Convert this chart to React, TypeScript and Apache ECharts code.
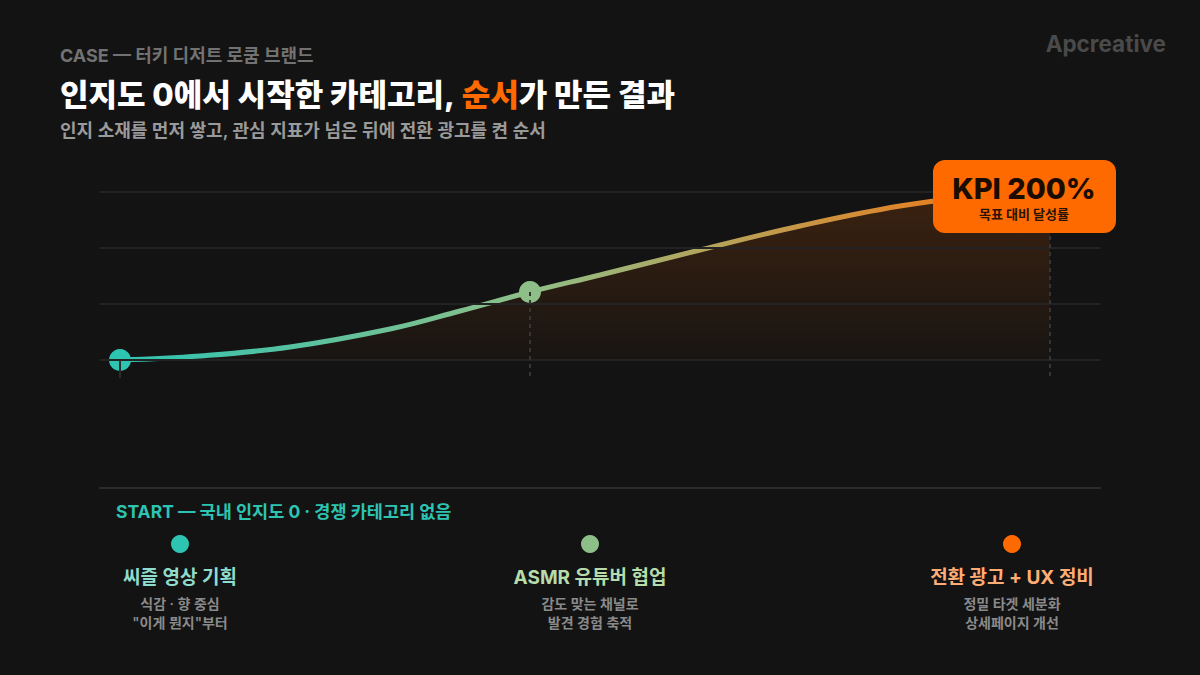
import React, { useEffect, useRef } from "react";
import * as echarts from "echarts";

// ---- Data ----
const curveX = [2, 10, 19, 29, 36, 43, 50, 60, 70, 80, 90, 95];
const curveY = [0, 4, 13, 31, 49, 68, 85, 110, 134, 154, 167, 172];
const milestoneX = [2, 43, 95];
const milestoneY = [0, 68, 172];
const gridValues = [0, 56, 112, 168];
const milestoneColors = ["#2ec4b2", "#8fbf88", "#ff6a00"];
const milestoneTitleColors = ["#8fdccd", "#b5dcaa", "#ffad74"];
const milestoneTitles = ["씨즐 영상 기획", "ASMR 유튜버 협업", "전환 광고 + UX 정비"];
const milestoneDescs = [
  ["식감 · 향 중심", "\"이게 뭔지\"부터"],
  ["감도 맞는 채널로", "발견 경험 축적"],
  ["정밀 타겟 세분화", "상세페이지 개선"],
];
const kicker = "CASE — 터키 디저트 로쿰 브랜드";
const titleA = "인지도 0에서 시작한 카테고리, ";
const titleHighlight = "순서";
const titleB = "가 만든 결과";
const subtitle = "인지 소재를 먼저 쌓고, 관심 지표가 넘은 뒤에 전환 광고를 켠 순서";
const brand = "Apcreative";
const kpiValue = "KPI 200%";
const kpiLabel = "목표 대비 달성률";
const startNote = "START — 국내 인지도 0 · 경쟁 카테고리 없음";

const FONT = "Inter, 'Noto Sans CJK KR', sans-serif";

export default function App() {
  const ref = useRef<HTMLDivElement>(null);

  useEffect(() => {
    document.body.style.margin = "0";
    document.body.style.background = "#131313";
    const chart = echarts.init(ref.current!, null, { renderer: "svg" });

    const columnX = [180, 590, 1012];
    const columnGraphics: any[] = [];
    milestoneTitles.forEach((t, i) => {
      columnGraphics.push({
        type: "circle",
        shape: { cx: columnX[i], cy: 544, r: 9 },
        style: { fill: milestoneColors[i] },
      });
      columnGraphics.push({
        type: "text",
        x: columnX[i],
        y: 577,
        style: {
          text: t,
          fill: milestoneTitleColors[i],
          fontSize: 19,
          fontWeight: "bold",
          fontFamily: FONT,
          textAlign: "center",
          textVerticalAlign: "middle",
        },
      });
      columnGraphics.push({
        type: "text",
        x: columnX[i],
        y: 613,
        style: {
          text: milestoneDescs[i].join("\n"),
          fill: "#8a8a8a",
          fontSize: 14,
          fontWeight: 600,
          fontFamily: FONT,
          lineHeight: 19,
          textAlign: "center",
          textVerticalAlign: "middle",
        },
      });
    });

    const guide = (x: number, y: number, dashed: boolean) => [
      {
        coord: [x, y],
        lineStyle: { color: dashed ? "#353535" : "#2c2c2c", width: 2, type: dashed ? [4, 4] : "solid" },
      },
      { coord: [x, -18] },
    ];

    chart.setOption({
      animation: false,
      backgroundColor: "#131313",
      grid: { left: 100, right: 100, top: 160, bottom: 187 },
      xAxis: {
        type: "value",
        min: 0,
        max: 100,
        axisLine: { show: true, onZero: false, lineStyle: { color: "#2c2c2c", width: 2 } },
        axisTick: { show: false },
        axisLabel: { show: false },
        splitLine: { show: false },
      },
      yAxis: {
        type: "value",
        min: -128,
        max: 200,
        axisLine: { show: false },
        axisTick: { show: false },
        axisLabel: { show: false },
        splitLine: { show: false },
      },
      series: [
        {
          type: "line",
          z: 1,
          data: [],
          silent: true,
          markLine: {
            silent: true,
            symbol: "none",
            label: { show: false },
            lineStyle: { color: "#232323", width: 2, type: "solid" },
            data: gridValues.map((v) => ({ yAxis: v })),
          },
        },
        {
          type: "line",
          z: 2,
          smooth: 0.4,
          showSymbol: false,
          data: curveX.map((x, i) => [x, curveY[i]]),
          lineStyle: {
            width: 5,
            cap: "round",
            color: new echarts.graphic.LinearGradient(0, 0, 1, 0, [
              { offset: 0, color: "#2ec4b2" },
              { offset: 0.44, color: "#8fbf88" },
              { offset: 1, color: "#fb7008" },
            ]),
          },
          areaStyle: {
            origin: "auto",
            color: new echarts.graphic.LinearGradient(0, 0, 0, 1, [
              { offset: 0, color: "rgba(255,106,0,0.25)" },
              { offset: 1, color: "rgba(255,106,0,0.03)" },
            ]),
          },
        },
        {
          type: "scatter",
          z: 3,
          symbolSize: 22,
          data: milestoneX.map((x, i) => ({
            value: [x, milestoneY[i]],
            itemStyle: { color: milestoneColors[i], opacity: 1 },
          })),
        },
        {
          type: "line",
          z: 4,
          data: [],
          markLine: {
            silent: true,
            symbol: "none",
            label: { show: false },
            data: milestoneX.map((x, i) => guide(x, milestoneY[i], i > 0)),
          },
        },
      ],
      graphic: [
        {
          type: "text",
          x: 60,
          y: 55,
          style: {
            text: kicker,
            fill: "#727272",
            fontSize: 18,
            fontWeight: "bold",
            fontFamily: FONT,
            textAlign: "left",
            textVerticalAlign: "middle",
          },
        },
        {
          type: "text",
          x: 60,
          y: 94,
          style: {
            text: `{w|${titleA}}{o|${titleHighlight}}{w|${titleB}}`,
            textAlign: "left",
            textVerticalAlign: "middle",
            rich: {
              w: { fill: "#ffffff", color: "#ffffff", fontSize: 31, fontWeight: 800, fontFamily: FONT },
              o: { fill: "#ff6a00", color: "#ff6a00", fontSize: 31, fontWeight: 800, fontFamily: FONT },
            },
          },
        },
        {
          type: "text",
          x: 60,
          y: 130,
          style: {
            text: subtitle,
            fill: "#9a9a9a",
            fontSize: 18,
            fontWeight: 600,
            fontFamily: FONT,
            textAlign: "left",
            textVerticalAlign: "middle",
          },
        },
        {
          type: "text",
          x: 1166,
          y: 43,
          style: {
            text: brand,
            fill: "#4a4a4a",
            fontSize: 22.5,
            fontWeight: "bold",
            fontFamily: FONT,
            textAlign: "right",
            textVerticalAlign: "middle",
          },
        },
        {
          type: "rect",
          z: 100,
          shape: { x: 933, y: 160, width: 183, height: 73, r: 12 },
          style: { fill: "#ff6a00" },
        },
        {
          type: "text",
          z: 101,
          x: 1024,
          y: 188,
          style: {
            text: kpiValue,
            fill: "#1a0c00",
            fontSize: 29,
            fontWeight: 800,
            fontFamily: FONT,
            textAlign: "center",
            textVerticalAlign: "middle",
          },
        },
        {
          type: "text",
          z: 101,
          x: 1024,
          y: 214,
          style: {
            text: kpiLabel,
            fill: "#2a1300",
            fontSize: 13,
            fontWeight: "bold",
            fontFamily: FONT,
            textAlign: "center",
            textVerticalAlign: "middle",
          },
        },
        {
          type: "text",
          x: 116,
          y: 511,
          style: {
            text: startNote,
            fill: "#2ec4b2",
            fontSize: 17.5,
            fontWeight: "bold",
            fontFamily: FONT,
            textAlign: "left",
            textVerticalAlign: "middle",
          },
        },
        ...columnGraphics,
      ],
    });

    return () => chart.dispose();
  }, []);

  return (
    <div
      ref={ref}
      style={{ position: "absolute", left: 0, top: 0, width: 1200, height: 675 }}
    />
  );
}
